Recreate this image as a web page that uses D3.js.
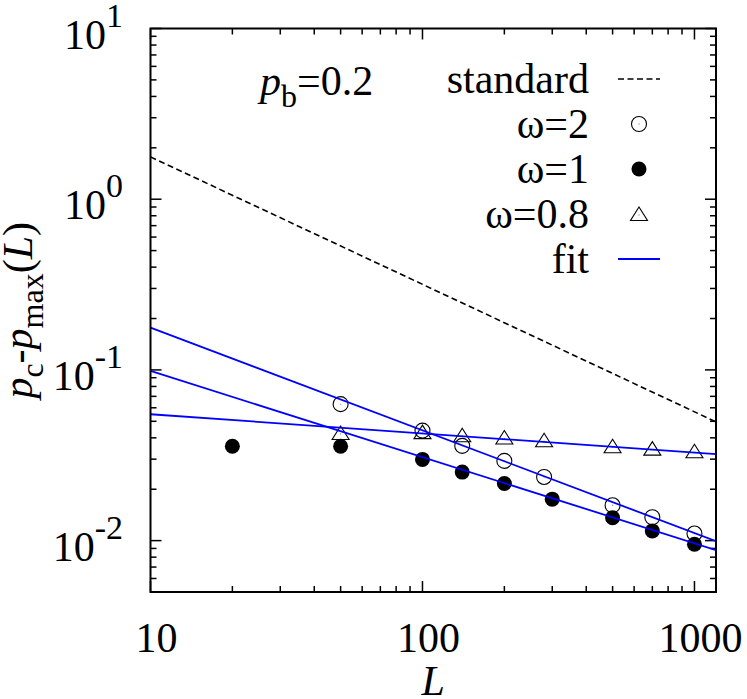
<!DOCTYPE html>
<html>
<head>
<meta charset="utf-8">
<script src="https://cdn.jsdelivr.net/npm/d3@7"></script>
<style>
  body { margin: 0; background: #fff; }
</style>
</head>
<body>
<div id="chart"></div>
<script>
// data
var openL = [50, 100, 140, 200, 280, 500, 700, 1000];
var openV = [0.063, 0.0441, 0.0359, 0.0293, 0.0236, 0.0161, 0.0137, 0.0110];   // omega = 2

var fillL = [20, 50, 100, 140, 200, 300, 500, 700, 1000];
var fillV = [0.0357, 0.0357, 0.0299, 0.0252, 0.0216, 0.0175, 0.0136, 0.0114, 0.00953]; // omega = 1

var triL = [50, 100, 140, 200, 280, 500, 700, 1000];
var triV = [0.0427, 0.0432, 0.0414, 0.0402, 0.0387, 0.0357, 0.0346, 0.0334];  // omega = 0.8

// straight lines in log-log: values at L = 10 and L = 1200
var lineL = [10, 1200];
var standardV = [1.77, 0.0496];
var fitStartV = [0.177, 0.0987, 0.055];
var fitEndV = [0.00992, 0.00879, 0.0321];

var xTickVals = [10, 100, 1000];
var yTickExp = ["1", "0", "-1", "-2"];
var legendLabels = ["standard", "\u03c9=2", "\u03c9=1", "\u03c9=0.8", "fit"];

var width = 747, height = 699;
var margin = {top: 28.5, right: 31, bottom: 107, left: 150.5};
var x0 = margin.left, x1 = width - margin.right, y0 = margin.top, y1 = height - margin.bottom;

var svg = d3.select("#chart").append("svg")
  .attr("width", width)
  .attr("height", height)
  .attr("font-family", "'Liberation Serif', 'Times New Roman', Tinos, 'DejaVu Serif', serif");

var x = d3.scaleLog().domain([10, 1200]).range([x0, x1]);
var y = d3.scaleLog().domain([0.005, 10]).range([y1, y0]);

svg.append("clipPath").attr("id", "clip")
  .append("rect").attr("x", x0).attr("y", y0).attr("width", x1 - x0).attr("height", y1 - y0);

// ticks, mirrored on all four sides, pointing inward
var xMinor = [], yMinor = [];
for (var k = 1; k <= 3; k++) {
  for (var m = 2; m <= 9; m++) {
    var v = m * Math.pow(10, k);
    if (v < 1200) xMinor.push(v);
  }
}
for (var k = -3; k <= 0; k++) {
  for (var m = 2; m <= 9; m++) {
    var v = m * Math.pow(10, k);
    if (v > 0.005 && v < 10) yMinor.push(v);
  }
}
var yMajor = [10, 1, 0.1, 0.01];

var ticks = svg.append("g").attr("stroke", "#000").attr("stroke-width", 1.5);
function xTick(v, len) {
  ticks.append("line").attr("x1", x(v)).attr("x2", x(v)).attr("y1", y1).attr("y2", y1 - len);
  ticks.append("line").attr("x1", x(v)).attr("x2", x(v)).attr("y1", y0).attr("y2", y0 + len);
}
function yTick(v, len) {
  ticks.append("line").attr("y1", y(v)).attr("y2", y(v)).attr("x1", x0).attr("x2", x0 + len);
  ticks.append("line").attr("y1", y(v)).attr("y2", y(v)).attr("x1", x1).attr("x2", x1 - len);
}
xTickVals.forEach(function(v){ xTick(v, 11); });
xMinor.forEach(function(v){ xTick(v, 6); });
yMajor.forEach(function(v){ yTick(v, 11); });
yMinor.forEach(function(v){ yTick(v, 6); });

// tick labels
svg.selectAll(".xlab").data(xTickVals).enter().append("text")
  .attr("class", "xlab")
  .attr("x", function(d){ return x(d) + 6; })
  .attr("y", 652)
  .attr("text-anchor", "middle")
  .attr("font-size", 42)
  .text(function(d){ return d; });

var ylab = svg.selectAll(".ylab").data(yMajor).enter().append("text")
  .attr("class", "ylab")
  .attr("x", 123)
  .attr("y", function(d){ return y(d) + 20; })
  .attr("text-anchor", "end")
  .attr("font-size", 42);
ylab.append("tspan").text("10");
ylab.append("tspan").attr("font-size", 34).attr("dy", -22)
  .text(function(d, i){ return yTickExp[i]; });

// axis titles
svg.append("text")
  .attr("x", (x0 + x1) / 2)
  .attr("y", 695)
  .attr("text-anchor", "middle")
  .attr("font-size", 42)
  .attr("font-style", "italic")
  .text("L");

var yt = svg.append("text")
  .attr("transform", "translate(32," + ((y0 + y1) / 2) + ") rotate(-90)")
  .attr("text-anchor", "middle")
  .attr("font-size", 42);
yt.append("tspan").attr("font-style", "italic").text("p");
yt.append("tspan").attr("font-size", 32).attr("dy", 11).text("c");
yt.append("tspan").attr("dy", -11).text("-");
yt.append("tspan").attr("font-style", "italic").text("p");
yt.append("tspan").attr("font-size", 32).attr("dy", 11).text("max");
yt.append("tspan").attr("dy", -11).text("(");
yt.append("tspan").attr("font-style", "italic").text("L");
yt.append("tspan").text(")");

// p_b label
var pb = svg.append("text").attr("x", 260).attr("y", 95).attr("font-size", 42);
pb.append("tspan").attr("font-style", "italic").text("p");
pb.append("tspan").attr("font-size", 32).attr("dy", 12).text("b");
pb.append("tspan").attr("dy", -12).text("=0.2");

// plot contents
var plot = svg.append("g").attr("clip-path", "url(#clip)");
var line = d3.line().x(function(d){ return x(d[0]); }).y(function(d){ return y(d[1]); });

plot.append("path")
  .datum(lineL.map(function(l, i){ return [l, standardV[i]]; }))
  .attr("d", line)
  .attr("fill", "none").attr("stroke", "#000").attr("stroke-width", 1.6)
  .attr("stroke-dasharray", "6,3.5");

function openCircle(g, cx, cy) {
  g.append("circle").attr("cx", cx).attr("cy", cy).attr("r", 7.5)
    .attr("fill", "none").attr("stroke", "#000").attr("stroke-width", 1.1);
  g.append("circle").attr("cx", cx).attr("cy", cy).attr("r", 0.7).attr("fill", "#999");
}
function filledCircle(g, cx, cy) {
  g.append("circle").attr("cx", cx).attr("cy", cy).attr("r", 7.5).attr("fill", "#000");
}
function triangle(g, cx, cy) {
  g.append("path")
    .attr("d", "M" + cx + "," + (cy - 7) + "L" + (cx + 8.5) + "," + (cy + 6.5) + "L" + (cx - 8.5) + "," + (cy + 6.5) + "Z")
    .attr("fill", "none").attr("stroke", "#000").attr("stroke-width", 1.1);
  g.append("circle").attr("cx", cx).attr("cy", cy + 1).attr("r", 0.7).attr("fill", "#999");
}

openL.forEach(function(l, i){ openCircle(plot, x(l), y(openV[i])); });
fillL.forEach(function(l, i){ filledCircle(plot, x(l), y(fillV[i])); });
triL.forEach(function(l, i){ triangle(plot, x(l), y(triV[i])); });

fitStartV.forEach(function(v, i){
  plot.append("path")
    .datum([[lineL[0], v], [lineL[1], fitEndV[i]]])
    .attr("d", line)
    .attr("fill", "none").attr("stroke", "#0000ff").attr("stroke-width", 1.8);
});

// legend
var legTextX = 589, legSx0 = 618, legSx1 = 660, legSc = 639;
legendLabels.forEach(function(lab, i){
  var by = 93 + i * 45, sy = by - 14;
  svg.append("text").attr("x", legTextX).attr("y", by)
    .attr("text-anchor", "end").attr("font-size", 42).text(lab);
  if (i == 0) {
    svg.append("line").attr("x1", legSx0).attr("x2", legSx1).attr("y1", sy).attr("y2", sy)
      .attr("stroke", "#000").attr("stroke-width", 1.6).attr("stroke-dasharray", "6,3.5");
  } else if (i == 1) {
    openCircle(svg, legSc, sy);
  } else if (i == 2) {
    filledCircle(svg, legSc, sy);
  } else if (i == 3) {
    triangle(svg, legSc, sy);
  } else {
    svg.append("line").attr("x1", legSx0).attr("x2", legSx1).attr("y1", sy).attr("y2", sy)
      .attr("stroke", "#0000ff").attr("stroke-width", 1.8);
  }
});

// frame
svg.append("rect")
  .attr("x", x0).attr("y", y0).attr("width", x1 - x0).attr("height", y1 - y0)
  .attr("fill", "none").attr("stroke", "#000").attr("stroke-width", 2);
</script>
</body>
</html>
